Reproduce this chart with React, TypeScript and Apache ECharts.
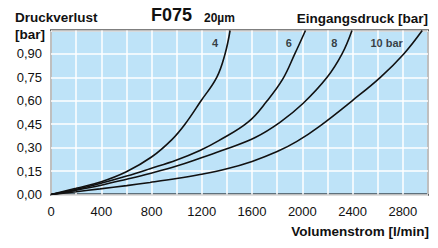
import React, { useEffect, useRef } from "react";
import * as echarts from "echarts";

const FONT = '"Liberation Sans", Arial, Helvetica, sans-serif';

// Volumenstrom [l/min] vs Druckverlust [bar]
const flow4 = [0, 200, 400, 600, 800, 960, 1066, 1194, 1319, 1385, 1425];
const dp4 = [0, 0.04, 0.082, 0.146, 0.24, 0.35, 0.45, 0.6, 0.75, 0.9, 1.05];

const flow6 = [0, 204, 390, 602, 788, 1000, 1185, 1335, 1570, 1720, 1845, 1940, 2025];
const dp6 = [0, 0.033, 0.07, 0.118, 0.165, 0.221, 0.282, 0.345, 0.465, 0.6, 0.74, 0.9, 1.05];

const flow8 = [0, 200, 390, 602, 788, 1000, 1185, 1400, 1625, 1822, 2007, 2197, 2316, 2395];
const dp8 = [0, 0.028, 0.058, 0.098, 0.135, 0.182, 0.232, 0.293, 0.365, 0.462, 0.584, 0.75, 0.9, 1.05];

const flow10 = [0, 200, 390, 602, 788, 1000, 1185, 1400, 1600, 1800, 1957, 2142, 2396, 2621, 2807, 2954];
const dp10 = [0, 0.018, 0.036, 0.057, 0.077, 0.102, 0.128, 0.165, 0.212, 0.275, 0.34, 0.44, 0.6, 0.75, 0.9, 1.05];

const curveLabels = ["4", "6", "8", "10 bar"];
const labelFlow = [1305, 1893, 2255, 2671];
const labelDp = [0.97, 0.97, 0.97, 0.97];

const xTicks = [0, 400, 800, 1200, 1600, 2000, 2400, 2800];

function pairs(xs: number[], ys: number[]) {
  return xs.map((x, i) => [x, ys[i]]);
}

export default function App() {
  const ref = useRef<HTMLDivElement>(null);
  useEffect(() => {
    if (!ref.current) return;
    const chart = echarts.init(ref.current, undefined, { renderer: "svg" });
    const lineSeries = [
      pairs(flow4, dp4),
      pairs(flow6, dp6),
      pairs(flow8, dp8),
      pairs(flow10, dp10),
    ].map((d) => ({
      type: "line",
      data: d,
      smooth: 0.4,
      symbol: "none",
      lineStyle: { color: "#111", width: 1.6 },
      z: 3,
      silent: true,
    }));
    chart.setOption({
      animation: false,
      textStyle: { fontFamily: FONT },
      grid: {
        left: 51,
        right: 10,
        top: 30.5,
        bottom: 53.5,
        show: true,
        backgroundColor: "#bee3f8",
        borderColor: "#000",
        borderWidth: 2,
        z: 0,
      },
      xAxis: {
        type: "value",
        min: 0,
        max: 3000,
        interval: 200,
        axisLine: { show: false },
        axisTick: { show: false },
        splitLine: { show: true, lineStyle: { color: "#fff", width: 1.5 } },
        axisLabel: {
          color: "#111",
          fontSize: 13,
          fontFamily: FONT,
          margin: 10,
          formatter: (v: number) => (xTicks.includes(v) ? String(v) : ""),
        },
      },
      yAxis: {
        type: "value",
        min: 0,
        max: 1.05,
        interval: 0.15,
        axisLine: { show: false },
        axisTick: { show: false },
        splitLine: { show: true, lineStyle: { color: "#fff", width: 1.5 } },
        axisLabel: {
          color: "#111",
          fontSize: 13,
          fontFamily: FONT,
          margin: 9,
          formatter: (v: number) => (v > 1.0 ? "" : v.toFixed(2).replace(".", ",")),
        },
      },
      series: [
        ...lineSeries,
        {
          type: "scatter",
          data: labelFlow.map((x, i) => ({ value: [x, labelDp[i]], name: curveLabels[i] })),
          symbolSize: 0,
          silent: true,
          z: 4,
          label: {
            show: true,
            position: "inside",
            formatter: (p: any) => p.name,
            color: "#111",
            fontSize: 11,
            fontWeight: "bold",
            fontFamily: FONT,
          },
        },
      ],
      graphic: [
        { type: "text", left: 15, top: 10, style: { text: "Druckverlust", fontSize: 13.5, fontWeight: "bold", fontFamily: FONT, fill: "#111" } },
        { type: "text", left: 15, top: 27, style: { text: "[bar]", fontSize: 13.5, fontWeight: "bold", fontFamily: FONT, fill: "#111" } },
        { type: "text", left: 151, top: 6, style: { text: "F075", fontSize: 18, fontWeight: "bold", fontFamily: FONT, fill: "#111" } },
        { type: "text", left: 204, top: 12, style: { text: "20µm", fontSize: 12, fontWeight: "bold", fontFamily: FONT, fill: "#111" } },
        { type: "text", right: 10, top: 11, style: { text: "Eingangsdruck [bar]", fontSize: 13.5, fontWeight: "bold", fontFamily: FONT, fill: "#111" } },
        { type: "text", right: 9, top: 224, style: { text: "Volumenstrom [l/min]", fontSize: 13.5, fontWeight: "bold", fontFamily: FONT, fill: "#111" } },
      ],
    });
    return () => chart.dispose();
  }, []);
  return (
    <div
      ref={ref}
      style={{ position: "fixed", left: 0, top: 0, width: 438, height: 248, background: "#fff" }}
    />
  );
}
